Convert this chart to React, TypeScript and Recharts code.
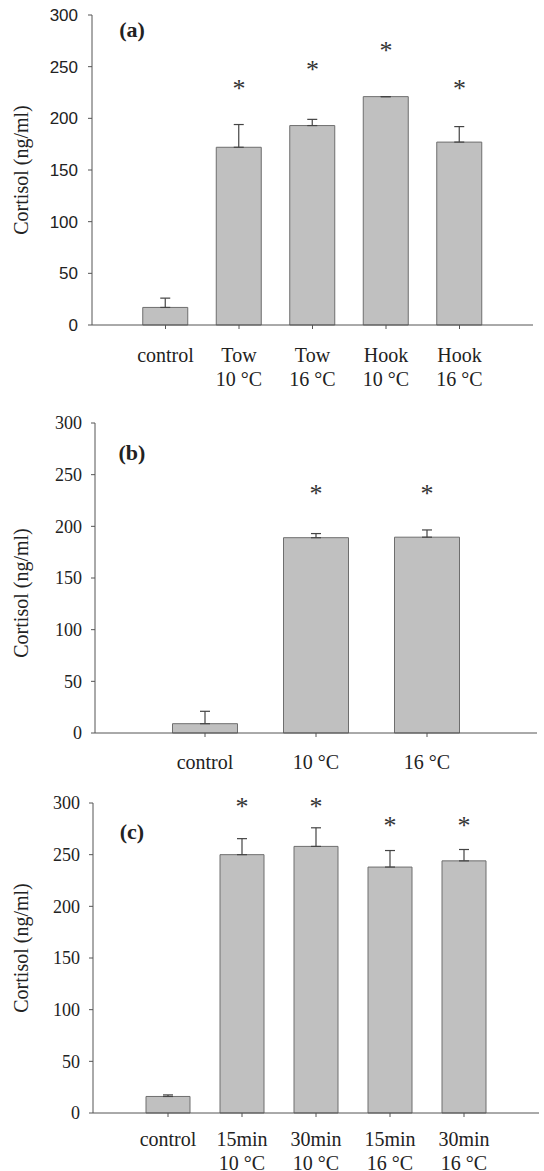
import React from "react";
import { ComposedChart, Bar, Scatter, XAxis, YAxis, ErrorBar } from "recharts";

// panel (a)
const catsA = ["control", "Tow\n10 °C", "Tow\n16 °C", "Hook\n10 °C", "Hook\n16 °C"];
const meanA = [17, 172, 193, 221, 177];
const seA = [9, 22, 6, 0, 15];
const starA = [null, 232, 251, 269, 232];

// panel (b)
const catsB = ["control", "10 °C", "16 °C"];
const meanB = [9, 189, 189.5];
const seB = [12, 4, 7];
const starB = [null, 235, 235];

// panel (c)
const catsC = ["control", "15min\n10 °C", "30min\n10 °C", "15min\n16 °C", "30min\n16 °C"];
const meanC = [16, 250, 258, 238, 244];
const seC = [1.5, 15.5, 18, 16, 11];
const starC = [null, 300, 300, 282, 282];

const yTicks = [0, 50, 100, 150, 200, 250, 300];

const SERIF = "'Liberation Serif', 'Times New Roman', serif";
const SANS = "'Liberation Sans', Arial, sans-serif";
const AX = "#555";

const XTick = (props: any) => {
  const { x, y, payload, first } = props;
  const lines = String(payload.value).split("\n");
  return (
    <g>
      {lines.map((s: string, i: number) => (
        <text
          key={i}
          x={x}
          y={y + first + i * 24}
          textAnchor="middle"
          fontFamily={SERIF}
          fontSize={20}
          fill="#222"
        >
          {s}
        </text>
      ))}
    </g>
  );
};

const Star = (props: any) => {
  const { cx, cy, payload } = props;
  if (payload == null || payload.star == null) return <g />;
  return (
    <text x={cx} y={cy + 12} textAnchor="middle" fontFamily={SERIF} fontSize={26} fill="#333">
      *
    </text>
  );
};

const Panel = ({ cats, mean, se, star, cfg }: any) => {
  const rows = cats.map((c: string, i: number) => ({
    name: c,
    mean: mean[i],
    err: [0, se[i]],
    star: star[i],
  }));
  const yMid = 15 + 155 + cfg.yLabelShift;
  return (
    <div style={{ position: "absolute", top: cfg.plotTop - 15, left: 0 }}>
      <ComposedChart
        width={544}
        height={cfg.height}
        data={rows}
        margin={{ top: 15, right: 544 - cfg.right, bottom: 0, left: 0 }}
      >
        <XAxis
          dataKey="name"
          type="category"
          interval={0}
          padding={{ left: cfg.pad, right: cfg.pad }}
          axisLine={{ stroke: AX }}
          tickLine={{ stroke: AX }}
          tickSize={4}
          height={cfg.height - 15 - 310}
          tick={(p: any) => <XTick {...p} first={cfg.xFirst} />}
        />
        <YAxis
          type="number"
          domain={[0, 300]}
          ticks={yTicks}
          width={cfg.left}
          axisLine={{ stroke: AX }}
          tickLine={{ stroke: AX }}
          tickSize={4}
          tickMargin={cfg.tickMargin}
          tick={{ fontFamily: cfg.tickFont, fontSize: cfg.tickSize, fill: "#222" }}
        />
        <Bar
          dataKey="mean"
          barSize={cfg.barSize}
          fill="#c0c0c0"
          stroke="#6e6e6e"
          strokeWidth={1}
          isAnimationActive={false}
        >
          <ErrorBar dataKey="err" direction="y" width={5} stroke="#444" strokeWidth={1.2} />
        </Bar>
        <Scatter dataKey="star" shape={<Star />} isAnimationActive={false} />
        <text
          x={21}
          y={yMid}
          transform={`rotate(-90, 21, ${yMid})`}
          textAnchor="middle"
          dominantBaseline="central"
          fontFamily={SERIF}
          fontSize={20}
          fill="#222"
        >
          Cortisol (ng/ml)
        </text>
        <text
          x={132}
          y={15 + cfg.tagY}
          textAnchor="middle"
          dominantBaseline="central"
          fontFamily={SERIF}
          fontWeight="bold"
          fontSize={22}
          fill="#222"
        >
          {cfg.tag}
        </text>
      </ComposedChart>
    </div>
  );
}

export default function App() {
  return (
    <div
      style={{
        position: "absolute",
        top: 0,
        left: 0,
        width: 544,
        height: 1171,
        overflow: "hidden",
        background: "#fff",
      }}
    >
      <Panel
        cats={catsA}
        mean={meanA}
        se={seA}
        star={starA}
        cfg={{
          plotTop: 15,
          height: 395,
          left: 92,
          right: 533,
          pad: 36.75,
          barSize: 45,
          xFirst: 31,
          tickFont: SANS,
          tickSize: 17,
          tickMargin: 10,
          yLabelShift: 0,
          tag: "(a)",
          tagY: 14,
        }}
      />
      <Panel
        cats={catsB}
        mean={meanB}
        se={seB}
        star={starB}
        cfg={{
          plotTop: 422.7,
          height: 380,
          left: 95,
          right: 537,
          pad: 54.5,
          barSize: 65,
          xFirst: 29.5,
          tickFont: SERIF,
          tickSize: 18,
          tickMargin: 9,
          yLabelShift: 15,
          tag: "(b)",
          tagY: 29,
        }}
      />
      <Panel
        cats={catsC}
        mean={meanC}
        se={seC}
        star={starC}
        cfg={{
          plotTop: 803.3,
          height: 385,
          left: 93,
          right: 539,
          pad: 38,
          barSize: 44,
          xFirst: 26.5,
          tickFont: SERIF,
          tickSize: 18,
          tickMargin: 9,
          yLabelShift: -10,
          tag: "(c)",
          tagY: 28,
        }}
      />
    </div>
  );
}
